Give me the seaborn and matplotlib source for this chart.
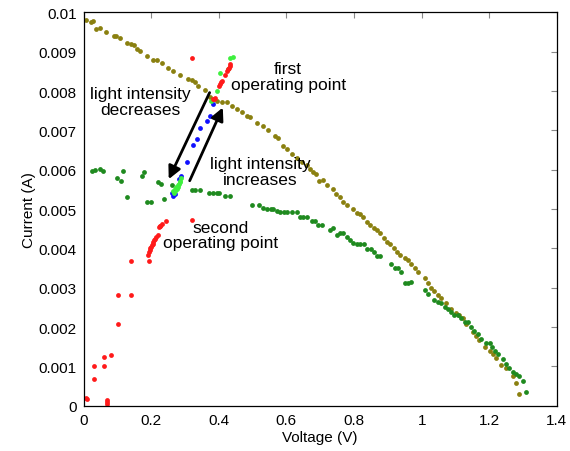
import matplotlib
matplotlib.use("Agg")
import matplotlib.pyplot as plt
import seaborn as sns
import pandas as pd

# ---- data (Voltage V, Current A) ----
olive_v = [.006, .021, .029, .038, .048, .068, .089, .097, .109, .129, .139, .148, .158, .168, .188, .207, .217,
           .232, .249, .266, .286, .308, .321, .330, .340, .360, .375, .394, .409, .424, .439, .455, .468, .483,
           .493, .512, .532, .547, .566, .576, .591, .601, .616, .630, .645, .660, .670, .679, .689, .697, .709,
           .719, .738, .748, .758, .768, .780, .797, .809, .817, .827, .837, .847, .858, .868, .876, .888, .898,
           .906, .917, .927, .937, .950, .960, .970, .979, .989, 1.009, 1.019, 1.029, 1.038, 1.048, 1.058, 1.073,
           1.088, 1.102, 1.110, 1.122, 1.132, 1.151, 1.161, 1.171, 1.186, 1.201, 1.210, 1.220, 1.235, 1.250,
           1.269, 1.279, 1.289]
olive_i = [.00980, .00975, .00979, .00958, .00960, .00950, .00941, .00941, .00935, .00923, .00920, .00918, .00907,
           .00901, .00890, .00879, .00878, .00870, .00859, .00851, .00840, .00830, .00827, .00823, .00813, .00803,
           .00786, .00775, .00771, .00771, .00762, .00754, .00747, .00737, .00733, .00720, .00710, .00701, .00686,
           .00680, .00661, .00653, .00640, .00629, .00619, .00612, .00602, .00595, .00589, .00572, .00574, .00561,
           .00551, .00539, .00530, .00518, .00511, .00501, .00491, .00488, .00480, .00468, .00460, .00452, .00448,
           .00440, .00426, .00416, .00412, .00401, .00391, .00384, .00376, .00371, .00360, .00349, .00340, .00324,
           .00311, .00300, .00291, .00281, .00273, .00261, .00247, .00237, .00232, .00222, .00209, .00188, .00178,
           .00167, .00150, .00140, .00131, .00121, .00104, .00095, .00076, .00057, .00030]

green_v = [.026, .035, .050, .058, .099, .111, .117, .129, .173, .180, .189, .200, .219, .229, .237, .262, .321,
           .330, .345, .370, .383, .394, .402, .419, .432, .498, .519, .530, .542, .554, .561, .571, .581, .593,
           .603, .616, .630, .640, .650, .660, .675, .684, .694, .704, .729, .738, .750, .758, .768, .780, .788,
           .797, .809, .819, .829, .839, .849, .858, .868, .878, .908, .920, .930, .938, .950, .960, .970, 1.009,
           1.019, 1.038, 1.048, 1.058, 1.068, 1.078, 1.088, 1.097, 1.107, 1.117, 1.127, 1.137, 1.147, 1.156,
           1.166, 1.176, 1.191, 1.201, 1.209, 1.218, 1.225, 1.240, 1.250, 1.258, 1.269, 1.279, 1.289, 1.299,
           1.309]
green_i = [.00598, .00599, .00602, .00598, .00578, .00572, .00598, .00530, .00585, .00593, .00519, .00519, .00570,
           .00564, .00526, .00560, .00549, .00549, .00549, .00540, .00540, .00540, .00540, .00532, .00532, .00511,
           .00511, .00502, .00500, .00500, .00500, .00494, .00492, .00492, .00492, .00492, .00492, .00480, .00480,
           .00480, .00469, .00469, .00460, .00460, .00446, .00452, .00435, .00440, .00440, .00429, .00422, .00415,
           .00410, .00410, .00410, .00399, .00399, .00391, .00381, .00381, .00360, .00350, .00350, .00340, .00312,
           .00311, .00315, .00294, .00284, .00270, .00263, .00260, .00252, .00246, .00239, .00232, .00230, .00222,
           .00212, .00212, .00200, .00190, .00182, .00171, .00159, .00159, .00150, .00140, .00131, .00118, .00106,
           .00097, .00085, .00080, .00077, .00063, .00035]

blue_v = [.383, .373, .365, .345, .335, .325, .306, .288, .281, .271, .266, .262]
blue_i = [.00766, .00737, .00724, .00705, .00678, .00663, .00619, .00583, .00577, .00539, .00534, .00540]

lime_v = [.443, .432, .426, .404, .394, .378, .266, .270, .274, .278, .282, .286, .268, .272, .276, .280, .284, .288]
lime_i = [.00887, .00885, .00855, .00847, .00800, .00775, .00547, .00552, .00556, .00560, .00564, .00568, .00540,
          .00545, .00550, .00555, .00572, .00578]

red_v = [.006, .009, .070, .070, .070, .030, .030, .060, .060, .080, .102, .102, .141, .141, .195, .190, .193, .196,
         .198, .200, .203, .205, .207, .209, .212, .215, .219, .222, .225, .227, .232, .243, .321,
         .321, .434, .432, .429, .426, .424, .419, .409, .406, .404, .400, .389, .386, .384]
red_i = [.00019, .00017, .00015, .00009, .00004, .00101, .00068, .00125, .00101, .00128, .00208, .00281, .00281,
         .00368, .00368, .00384, .00390, .00395, .00400, .00404, .00408, .00412, .00417, .00421, .00425, .00429,
         .00433, .00454, .00456, .00458, .00463, .00469, .00471,
         .00885, .00868, .00864, .00859, .00855, .00851, .00842, .00826, .00822, .00817, .00813, .00783, .00781,
         .00779]

# annotation arrows: (tail V, tail I, head V, head I)
arrow_decrease = (.373, .00796, .252, .00576)
arrow_increase = (.314, .00572, .412, .00758)

x_ticks = [0, 0.2, 0.4, 0.6, 0.8, 1, 1.2, 1.4]
x_ticklabels = ["0", "0.2", "0.4", "0.6", "0.8", "1", "1.2", "1.4"]
y_ticks = [0, 0.001, 0.002, 0.003, 0.004, 0.005, 0.006, 0.007, 0.008, 0.009, 0.01]
y_ticklabels = ["0", "0.001", "0.002", "0.003", "0.004", "0.005", "0.006", "0.007", "0.008", "0.009", "0.01"]

series = [("olive", olive_v, olive_i), ("green", green_v, green_i), ("blue", blue_v, blue_i),
          ("lime", lime_v, lime_i), ("red", red_v, red_i)]
frames = [pd.DataFrame({"V": v, "I": i, "s": name}) for name, v, i in series]
df = pd.concat(frames, ignore_index=True)

palette = {"olive": "#8a8010", "green": "#1f8a1f", "blue": "#1010ff", "lime": "#3ef03e", "red": "#ff1a1a"}

sns.set_style("white")
plt.rcParams["font.family"] = ["Liberation Sans", "DejaVu Sans"]
plt.rcParams["text.color"] = "black"
plt.rcParams["axes.labelcolor"] = "black"

fig = plt.figure(figsize=(5.7, 4.52), dpi=100)
ax = fig.add_axes([0.1465, 0.1, 0.8305, 0.8705])

for name, v, i in series:
    sns.scatterplot(x=v, y=i, ax=ax, color=palette[name], s=12, linewidth=0, legend=False)

ax.set_xlim(0, 1.4)
ax.set_ylim(0, 0.01)
ax.set_xticks(x_ticks)
ax.set_xticklabels(x_ticklabels)
ax.set_yticks(y_ticks)
ax.set_yticklabels(y_ticklabels)
ax.tick_params(direction="in", length=4, width=0.8, top=True, right=True, labelsize=11,
               colors="#888888", labelcolor="black", pad=5)
for sp in ax.spines.values():
    sp.set_color("black")
    sp.set_linewidth(0.9)
ax.set_xlabel("Voltage (V)", fontsize=11, labelpad=2, color="black")
ax.set_ylabel("Current (A)", fontsize=11, labelpad=2, color="black")

for a in (arrow_decrease, arrow_increase):
    ax.annotate("", xy=(a[2], a[3]), xytext=(a[0], a[1]),
                arrowprops=dict(arrowstyle="-|>", color="black", lw=2.0, mutation_scale=19,
                                shrinkA=0, shrinkB=0))

tkw = dict(fontsize=12.5, ha="center", va="center", linespacing=1.05, color="black")
ax.text(0.605, 0.00837, "first\noperating point", **tkw)
ax.text(0.168, 0.00774, "light intensity\ndecreases", **tkw)
ax.text(0.522, 0.00596, "light intensity\nincreases", **tkw)
ax.text(0.404, 0.00434, "second\noperating point", **tkw)

fig.savefig("out.png", dpi=100)
